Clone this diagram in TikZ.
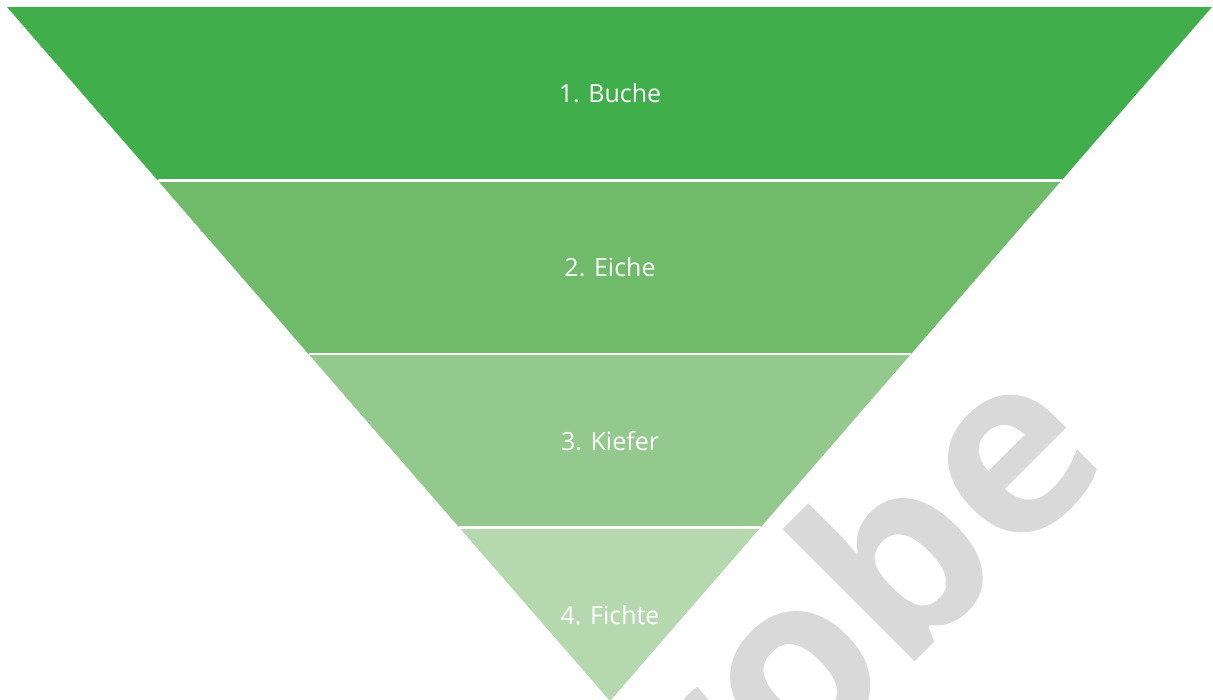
\documentclass[tikz,border=0pt]{standalone}
\usepackage{fontspec}
\setmainfont{Open Sans}
\usetikzlibrary{calc}
\definecolor{bandA}{RGB}{65,174,76}
\definecolor{bandB}{RGB}{112,187,106}
\definecolor{bandC}{RGB}{147,201,140}
\definecolor{bandD}{RGB}{181,216,174}
\definecolor{markgray}{RGB}{217,217,217}
\tikzset{
  bandlabel/.style={text=white, font=\fontsize{25}{30}\selectfont, inner sep=0pt},
  divider/.style={draw=white, line width=2.6pt},
  watermark/.style={text=markgray, font=\bfseries\fontsize{246}{300}\selectfont, inner sep=0pt, rotate=45, anchor=base east}
}
\begin{document}
\begin{tikzpicture}[x=1pt,y=-1pt]
  \useasboundingbox (0,0) rectangle (1213,699);
  % watermark lettering behind the funnel
  \node[watermark] (wm) at (1115,462) {Probe};
  % funnel corners
  \coordinate (TL) at (7,7);
  \coordinate (TR) at (1212,7);
  \coordinate (A) at (610,701);
  % four equal-height bands
  \fill[bandA] (TL) -- (TR) -- ($(TR)!0.25!(A)$) -- ($(TL)!0.25!(A)$) -- cycle;
  \fill[bandB] ($(TL)!0.25!(A)$) -- ($(TR)!0.25!(A)$) -- ($(TR)!0.5!(A)$) -- ($(TL)!0.5!(A)$) -- cycle;
  \fill[bandC] ($(TL)!0.5!(A)$) -- ($(TR)!0.5!(A)$) -- ($(TR)!0.75!(A)$) -- ($(TL)!0.75!(A)$) -- cycle;
  \fill[bandD] ($(TL)!0.75!(A)$) -- ($(TR)!0.75!(A)$) -- (A) -- cycle;
  % white gaps between the bands
  \draw[divider] ($(TL)!0.25!(A)$) -- ($(TR)!0.25!(A)$);
  \draw[divider] ($(TL)!0.5!(A)$) -- ($(TR)!0.5!(A)$);
  \draw[divider] ($(TL)!0.75!(A)$) -- ($(TR)!0.75!(A)$);
  % band labels
  \node[bandlabel] (l1) at (610,93.5) {1. Buche};
  \node[bandlabel] (l2) at (610,267.5) {2. Eiche};
  \node[bandlabel] (l3) at (610,441) {3. Kiefer};
  \node[bandlabel] (l4) at (610,615) {4. Fichte};
\end{tikzpicture}
\end{document}
